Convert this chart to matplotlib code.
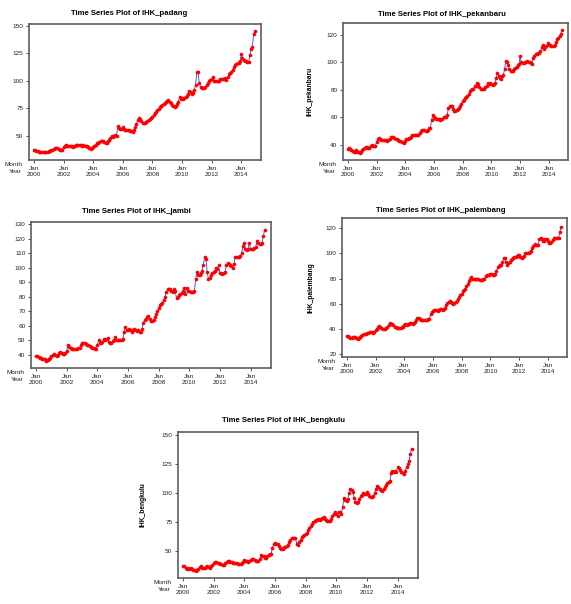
import numpy as np
import matplotlib
matplotlib.use("Agg")
import matplotlib.pyplot as plt

plt.rcParams['font.family'] = ['Liberation Sans', 'DejaVu Sans']

# monthly index values, Jan 2000 .. Dec 2014 (one row per year)
tick_years = [2000, 2002, 2004, 2006, 2008, 2010, 2012, 2014]

padang = [
    37.5, 37, 36.5, 36, 35.5, 35.5, 35, 35.5, 35.5, 35.5, 35, 35.5,
    36, 36.5, 37, 37.5, 38, 38.5, 39, 38.5, 38, 37.5, 37, 37.5,
    40, 41, 41.5, 41, 41, 40.5, 40.5, 40.5, 40, 40.5, 41.5, 42,
    42, 41.5, 41.5, 41, 41.5, 41, 40.5, 40.5, 40, 39, 38, 38.5,
    40, 41, 42, 43, 43.5, 44, 45, 45.5, 45, 44, 43.5, 43,
    45, 46, 48, 49.5, 49, 50, 50.5, 50, 59, 57, 56, 56,
    58, 56, 55.5, 55, 55, 55, 54.5, 54, 53.5, 55, 58, 61,
    64, 66, 65, 63, 62, 62, 62, 62.5, 63, 64, 65, 66,
    67, 69, 71, 72, 73, 74, 76, 77, 78, 79, 80, 81,
    82, 82.5, 81, 80, 78, 77, 76.5, 77, 79, 81, 85, 83,
    84, 83, 84, 85, 86, 88, 91, 90, 88, 89, 92, 96,
    108, 107.5, 98, 94, 93.5, 93, 93, 94, 96, 98, 100, 101,
    102, 103, 100, 99.5, 99.5, 99.5, 100, 102, 102, 101.5, 102, 102.5,
    101, 103, 106, 107, 108, 110, 112, 114, 115.5, 116, 116.5, 117.5,
    124, 121, 119, 118, 117.5, 117, 117, 123, 129, 131, 142, 145,
]

pekanbaru = [
    37, 38, 37, 36, 35.5, 35, 35, 36, 35, 34.5, 34, 35,
    36, 37, 38, 38.5, 38.5, 38, 38, 39, 40, 39.5, 39, 39.5,
    42, 44.5, 45, 44, 43.5, 43.5, 43.5, 43.5, 43.5, 43, 43.5, 44,
    45.5, 46, 45.5, 45, 44.5, 44, 43.5, 43, 42.5, 42, 42, 41.5,
    43, 44, 44.5, 45, 45, 46, 47, 47.5, 47.5, 47, 47, 47.5,
    48.5, 50, 51, 51, 50.5, 50, 50, 51, 52, 52.5, 58, 62,
    60, 59.5, 59, 59, 58.5, 58, 58.5, 59, 60, 60.5, 60.5, 61.5,
    66.5, 68, 68, 68, 66, 65, 65, 65.5, 66, 66.5, 68, 70,
    72, 73, 74, 75, 75.5, 77, 79, 80, 80.5, 81, 83, 83,
    85, 84, 82, 81, 80.5, 80.5, 81, 82, 83, 85, 84, 85,
    84, 83.5, 84, 85, 89, 92, 90, 89, 88, 90, 91, 95,
    101, 100.5, 98, 95, 94, 93.5, 94, 95, 96, 97, 98, 98.5,
    104.5, 100, 99.5, 99.5, 100, 100.5, 101, 100.5, 100, 99.5, 99, 103,
    105, 106, 106.5, 107, 107, 108, 111, 113, 110, 111, 112, 114,
    113, 112.5, 112, 112, 112, 113, 115, 117, 118, 119.5, 121, 123.5,
]

jambi = [
    39.5, 39, 38.5, 38, 38, 37.5, 37.5, 37.5, 36, 36.5, 37.5, 38,
    39, 40, 40.5, 40, 39.5, 40, 41, 42, 41, 40.5, 40.5, 41.5,
    43, 47, 45.5, 44.5, 44, 44, 44, 44, 44, 44.5, 45, 47,
    48, 48.5, 48, 47.5, 47, 46.5, 46, 45.5, 45, 44.5, 44, 44,
    47, 50, 48.5, 48, 49, 51, 50.5, 51, 51.5, 49, 48, 48.5,
    49.5, 50, 52, 50.5, 50, 50, 50, 50.5, 51, 56, 59, 57,
    57, 57.5, 57, 56, 57, 58, 57, 56.5, 57, 56, 56, 58,
    62, 64, 65, 66, 67, 64.5, 63.5, 63, 64, 66, 68, 70,
    72, 74, 75, 76, 77.5, 80, 83, 85, 85.5, 85, 84, 83.5,
    85, 84, 79, 80, 81.5, 82, 82.5, 84, 86, 82, 86, 84,
    84, 83.5, 83, 83, 84, 92, 97, 95, 95, 96, 98, 102,
    107, 106, 97, 92, 93, 95, 96, 97, 98, 100, 99, 101.5,
    96, 96, 95.5, 96, 97, 102, 103, 102.5, 102, 101, 100, 102.5,
    107, 107, 107, 107.5, 108, 110, 115, 117, 113, 112, 113, 117,
    113, 113, 113, 113.5, 114, 118, 117, 116.5, 116.5, 117, 121.5, 126,
]

palembang = [
    35, 34.5, 33.5, 33, 33, 33.5, 34, 34, 33, 32.5, 33, 34,
    35, 35.5, 36, 36, 36.5, 37, 37, 38, 38, 37.5, 37, 37.5,
    39, 40, 41.5, 42.5, 42, 41, 40.5, 40.5, 40.5, 41, 41.5, 43,
    45, 44.5, 44, 43, 42, 41.5, 41, 41, 41, 41, 41.5, 42,
    43.5, 44.5, 43.5, 44, 44.5, 45, 45, 44.5, 45, 46, 47, 48.5,
    48.5, 48, 47.5, 47.5, 47, 47, 47.5, 47.5, 48, 48, 52, 53.5,
    54.5, 55, 55.5, 55, 54.5, 55, 56, 56, 55.5, 56, 57, 59,
    61, 61.5, 62, 61.5, 60.5, 60, 61, 61.5, 62.5, 64, 65.5, 67,
    68, 70, 71, 72, 74, 76, 78, 80, 81, 80, 80, 80,
    80, 80, 79.5, 79, 79, 79, 79.5, 80, 82, 83, 83, 82.5,
    84, 83.5, 83, 83, 84, 86, 89, 90, 90.5, 91, 93, 96,
    96, 93, 91, 92, 93.5, 94.5, 95.5, 96, 97, 97.5, 98, 98.5,
    98.5, 97, 96.5, 97, 98, 100, 100.5, 100, 100.5, 101, 102, 104,
    106, 107.5, 107, 107, 107, 111.5, 112.5, 111, 110, 110, 111.5, 111,
    109.5, 108.5, 108, 109, 110.5, 112, 112, 112, 112, 112.5, 117, 121,
]

bengkulu = [
    37, 37.5, 36, 35, 35.5, 35, 35.5, 35, 34, 33.5, 33, 33.5,
    34.5, 36.5, 37, 36, 36, 35.5, 36.5, 37, 36.5, 36, 37, 38,
    39.5, 41, 40.5, 40, 39.5, 39, 39, 38.5, 38.5, 39.5, 41, 41.5,
    41.5, 41, 40.5, 40, 40, 39.5, 39.5, 39, 39, 39, 40, 41,
    42.5, 42, 41.5, 41, 41.5, 42.5, 43, 43.5, 42.5, 41.5, 41.5, 42,
    43, 47, 46, 45.5, 44.5, 44.5, 45.5, 46.5, 47.5, 48, 53, 56,
    57, 56.5, 56, 54.5, 53, 51.5, 52, 54, 54, 54.5, 55.5, 58,
    60, 61, 61.5, 61, 61, 56.5, 55.5, 58, 60, 62, 63, 64,
    65, 66, 68, 70, 71.5, 73, 75, 76, 76.5, 77, 77.5, 77,
    78, 78.5, 79, 78, 77, 76, 75.5, 76, 78, 80, 82, 84,
    82, 80, 84, 83.5, 82, 88, 96, 94, 93.5, 95, 100, 103,
    102.5, 101, 96, 92, 91, 92.5, 95, 97, 98.5, 100, 99.5, 99,
    101, 99, 97.5, 96.5, 96.5, 97, 100, 103, 106, 105, 103.5, 102.5,
    102, 103, 105, 107, 108.5, 109.5, 110, 117, 119, 118, 119, 118,
    122, 121, 119.5, 118, 117, 116.5, 119, 122, 124.5, 127, 133.5, 138,
]

W, H = 571, 604
fig = plt.figure(figsize=(W / 100, H / 100), dpi=100)


def px_rect(l, t, r, b):
    return [l / W, 1 - b / H, (r - l) / W, (b - t) / H]


def draw(name, values, rect, ylim, yticks, title_xy, label_x):
    ax = fig.add_axes(rect)
    x = np.arange(len(values))
    ax.plot(x, values, color='#3c3cff', lw=0.6, zorder=2)
    ax.plot(x, values, 'o', color='red', ms=2.6, mew=0, zorder=3)
    ax.set_xlim(-4, len(values) + 4)
    ax.set_ylim(*ylim)
    ax.set_yticks(yticks)
    ax.set_xticks(np.arange(0, len(values), 24))
    ax.set_xticklabels([f"Jan\n{y}" for y in tick_years])
    for lbl in ax.get_xticklabels():
        lbl.set_linespacing(1.35)
    ax.tick_params(labelsize=4.6, length=2.5, width=0.6, pad=1.5,
                   direction='out', color='#333333', labelcolor='#222222')
    for s in ax.spines.values():
        s.set_color('#5e5e5e')
        s.set_linewidth(1.2)
    ax.set_ylabel(f"IHK_{name}", fontsize=4.8, fontweight='bold')
    ax.yaxis.set_label_coords(label_x, 0.5)
    fig.text(title_xy[0] / W, 1 - title_xy[1] / H, f"Time Series Plot of IHK_{name}",
             ha='center', va='center', fontsize=5.6, fontweight='bold')
    ax.annotate("Month\nYear", xy=(0, 0), xycoords='axes fraction',
                xytext=(-5, -1.6), textcoords='offset points', ha='right', va='top',
                fontsize=4.6, multialignment='right', linespacing=1.35, color='#222222')
    return ax


draw("padang", padang, px_rect(29, 24, 261, 160), (28, 151.5),
     [50, 75, 100, 125, 150], (129.5, 13.5), -0.125)
draw("pekanbaru", pekanbaru, px_rect(343, 23, 568, 160), (29, 128.7),
     [40, 60, 80, 100, 120], (442, 14), -0.129)
draw("jambi", jambi, px_rect(31, 222, 271, 368), (31, 131.4),
     list(range(40, 131, 10)), (136, 211), -0.129)
draw("palembang", palembang, px_rect(342, 218, 567, 357), (18, 128),
     [20, 40, 60, 80, 100, 120], (441, 210), -0.124)
draw("bengkulu", bengkulu, px_rect(178, 432, 418, 578), (27, 152.3),
     [50, 75, 100, 125, 150], (283, 421), -0.133)

fig.savefig("out.png", dpi=100)
